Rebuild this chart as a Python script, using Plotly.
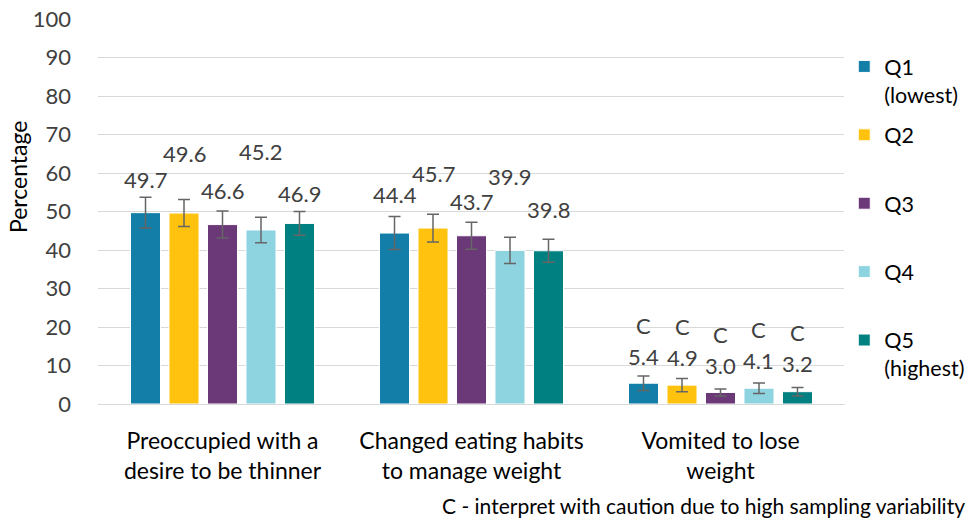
import plotly.graph_objects as go

categories = ["Preoccupied with a<br>desire to be thinner",
              "Changed eating habits<br>to manage weight",
              "Vomited to lose<br>weight"]
series_names = ["Q1<br>(lowest)", "Q2<br>&nbsp;", "Q3<br>&nbsp;", "Q4<br>&nbsp;", "Q5<br>(highest)"]
q1 = [49.7, 44.4, 5.4]
q2 = [49.6, 45.7, 4.9]
q3 = [46.6, 43.7, 3.0]
q4 = [45.2, 39.9, 4.1]
q5 = [46.9, 39.8, 3.2]
err1 = [4.0, 4.3, 1.9]
err2 = [3.5, 3.6, 1.7]
err3 = [3.5, 3.5, 0.9]
err4 = [3.3, 3.4, 1.35]
err5 = [3.1, 3.0, 1.1]
caution = [[False, False, True]] * 5
y_ticks = [0, 10, 20, 30, 40, 50, 60, 70, 80, 90, 100]
footnote = "C - interpret with caution due to high sampling variability"

# style
colors = ["#137ea8", "#ffc20e", "#6b3878", "#8ed4e0", "#008080"]
label_lift = [[33, 39, 27], [60, 55, 28], [34, 34, 27], [78, 74, 28], [30, 41, 28]]  # px above bar top
c_lift = 31
FONT = "Lato"
TXT = "#404040"
W, H = 973, 522
ML, MR, MT, MB = 98, 128, 19, 118
BARGAP = 0.227

values = [q1, q2, q3, q4, q5]
errors = [err1, err2, err3, err4, err5]

fig = go.Figure()
for i in range(5):
    fig.add_trace(go.Bar(
        x=categories, y=values[i], name=series_names[i],
        marker=dict(color=colors[i], line=dict(color="white", width=1)),
        error_y=dict(type="data", array=errors[i], color="#666666", thickness=1.5, width=6),
        legendgroup=f"g{i}",
    ))

plot_w = W - ML - MR
plot_h = H - MT - MB
cat_w = plot_w / len(categories)
bar_slot = cat_w * (1 - BARGAP) / 5
anns = []
for i in range(5):
    for j, c in enumerate(categories):
        xs = (i - 2) * bar_slot
        anns.append(dict(x=c, y=values[i][j], xref="x", yref="y", text=f"{values[i][j]:.1f}",
                         showarrow=False, xshift=xs, yshift=label_lift[i][j], yanchor="middle",
                         font=dict(family=FONT, size=22, color=TXT)))
        if caution[i][j]:
            anns.append(dict(x=c, y=values[i][j], xref="x", yref="y", text="C",
                             showarrow=False, xshift=xs, yshift=label_lift[i][j] + c_lift,
                             yanchor="middle", font=dict(family=FONT, size=22, color=TXT)))
anns.append(dict(x=-80 / plot_w, y=(404 - 177) / plot_h, xref="paper", yref="paper", text="Percentage",
                 textangle=-90, showarrow=False, xanchor="center", yanchor="middle",
                 font=dict(family=FONT, size=23, color="#000000")))
anns.append(dict(x=1 + (MR - 6) / plot_w, y=-(506 - 404) / plot_h, xref="paper", yref="paper",
                 text=footnote, showarrow=False, xanchor="right", yanchor="middle",
                 font=dict(family=FONT, size=21, color="#000000")))

fig.update_layout(
    width=W, height=H, margin=dict(l=ML, r=MR, t=MT, b=MB, autoexpand=False),
    paper_bgcolor="white", plot_bgcolor="white",
    barmode="group", bargap=BARGAP, bargroupgap=0.22,
    font=dict(family=FONT, size=22, color=TXT),
    xaxis=dict(showgrid=False, showline=True, linecolor="#d9d9d9", linewidth=1, automargin=False,
               ticks="", ticklabelstandoff=16, tickfont=dict(size=23, color="#000000")),
    yaxis=dict(range=[0, 100], tickvals=y_ticks, showgrid=True, gridcolor="#d9d9d9", automargin=False,
               zeroline=False, showline=False, ticks="", ticklabelstandoff=26,
               tickfont=dict(size=22, color=TXT)),
    legend=dict(x=0.999, xanchor="left", y=0.93, yanchor="top", valign="top",
                tracegroupgap=9.5, font=dict(family=FONT, size=21.5, color="#000000")),
    annotations=anns,
    showlegend=True,
)
fig.write_html("out.html", config={"displayModeBar": False},
               post_script="document.body.style.margin='0';document.body.style.overflow='hidden';")
